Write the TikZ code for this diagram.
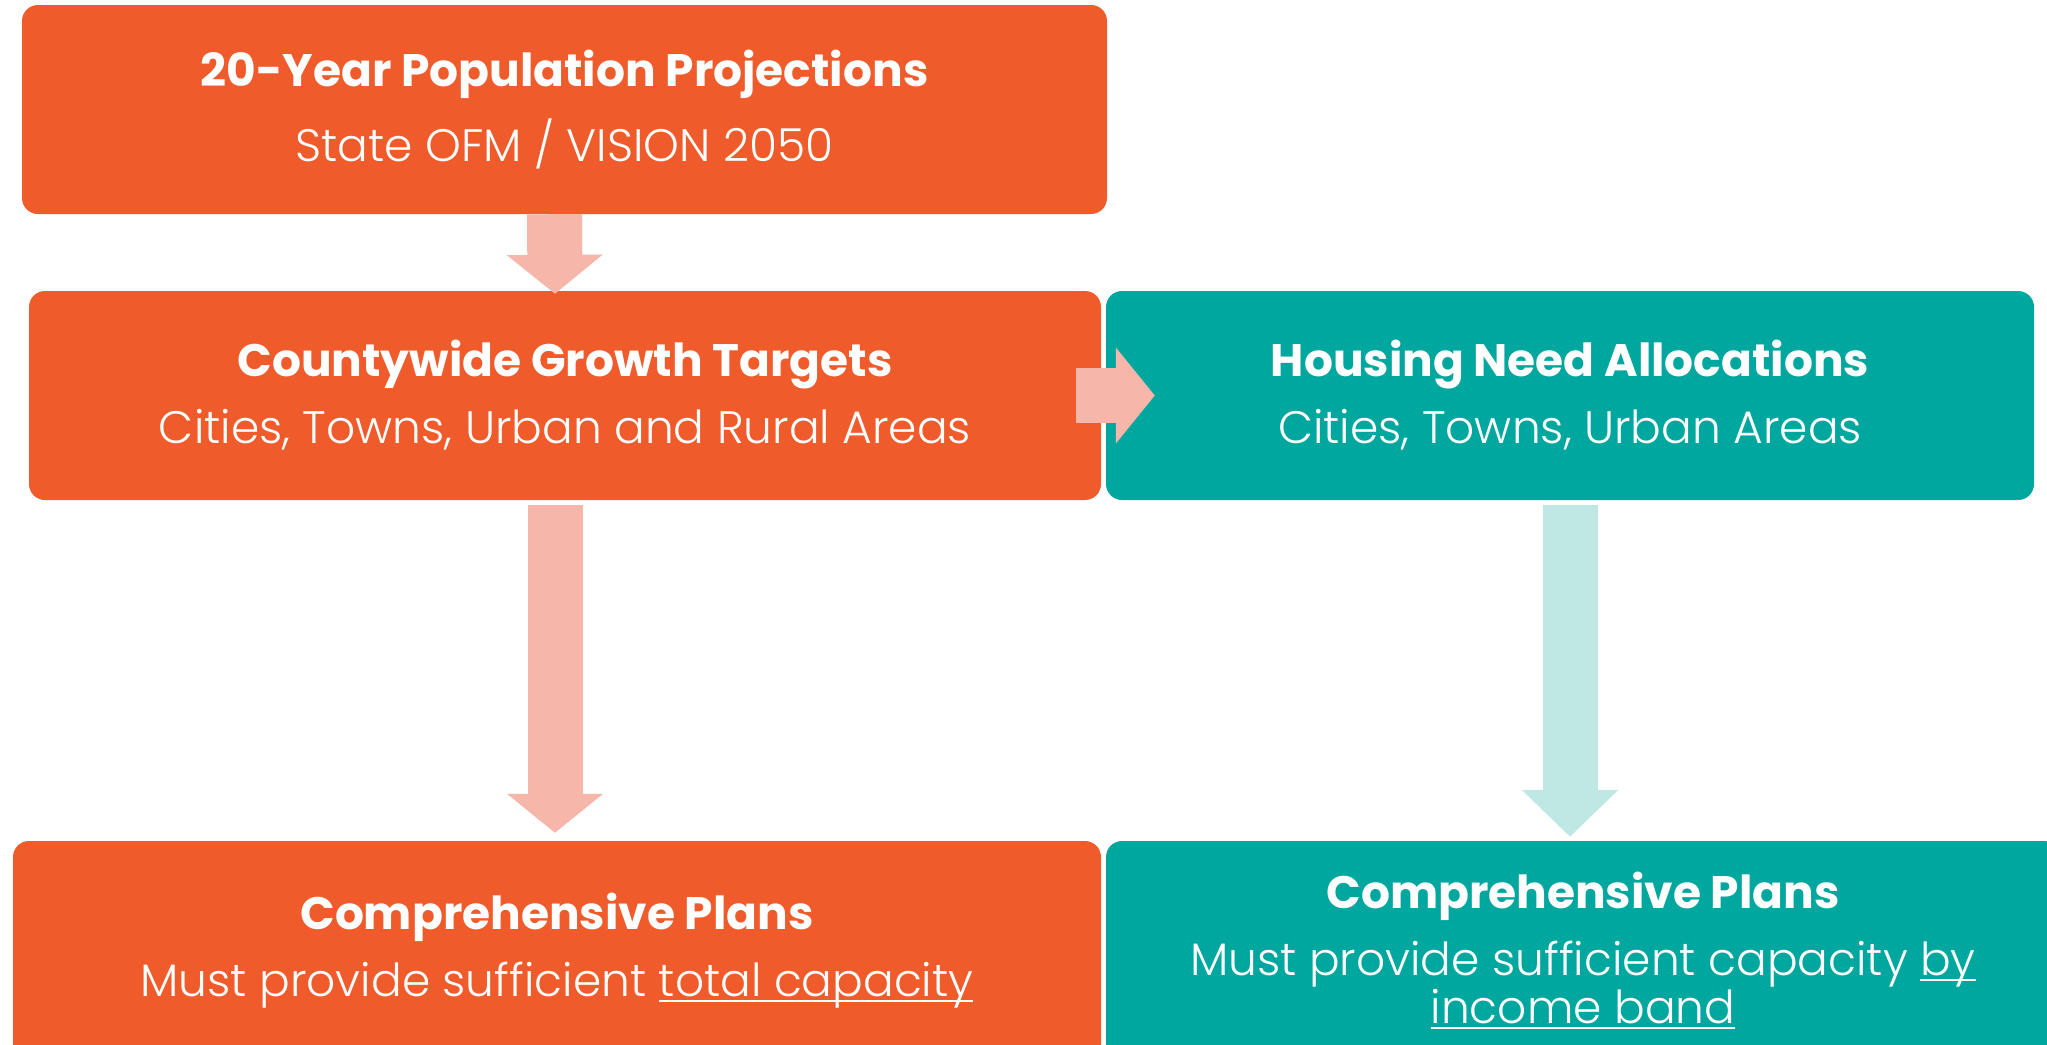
\documentclass[tikz,border=0pt]{standalone}
\usepackage{fontspec}
\setmainfont{Poppins}
\newfontfamily\lightfont{Poppins Light}
\newcommand\undrl[1]{\setbox0\hbox{#1}\rlap{\rule[-6pt]{\wd0}{2pt}}\box0}
\usetikzlibrary{arrows.meta}

\begin{document}
\begin{tikzpicture}[x=1pt,y=-1pt,
  box/.style={rounded corners=16pt, inner sep=0pt, align=center, text=white,
    font=\fontsize{45.5}{48}\selectfont},
  orangebox/.style={box, fill=custorange},
  tealbox/.style={box, fill=custteal},
  pinkarrow/.style={line width=55pt, custpink, -{Triangle[width=94pt,length=39pt]}},
  tealarrow/.style={line width=55pt, custlteal, -{Triangle[width=94pt,length=47pt]}}]
\definecolor{custorange}{RGB}{240, 91, 43}
\definecolor{custteal}{RGB}{0, 167, 159}
\definecolor{custpink}{RGB}{247, 182, 170}
\definecolor{custlteal}{RGB}{191, 232, 228}
\useasboundingbox (0,0) rectangle (2047,1044);
% boxes
\node[orangebox, minimum width=1085pt, minimum height=209pt] (pop) at (564.5,109.5)
  {\bfseries 20-Year Population Projections\\[19pt] {\lightfont State OFM / VISION 2050}};
\node[orangebox, minimum width=1072pt, minimum height=209pt] (growth) at (565,395.5)
  {\bfseries Countywide Growth Targets\\[19pt] {\lightfont Cities, Towns, Urban and Rural Areas}};
\node[tealbox, minimum width=928pt, minimum height=209pt] (housing) at (1570,395.5)
  {\bfseries Housing Need Allocations\\[19pt] {\lightfont Cities, Towns, Urban Areas}};
\node[orangebox, minimum width=1088pt, minimum height=219pt] (compL) at (557,950.5)
  {\bfseries Comprehensive Plans\\[19pt] {\lightfont Must provide sufficient \undrl{total capacity}}};
\node[tealbox, minimum width=954pt, minimum height=219pt] (compR) at (1583,950.5)
  {\bfseries Comprehensive Plans\\[19pt] {\lightfont Must provide sufficient capacity \undrl{by}}\\ {\lightfont \undrl{income band}}};
% arrows
\draw[pinkarrow, shorten >=-3pt] ([xshift=-10pt]pop.south) -- ([xshift=-10pt]growth.north);
\draw[pinkarrow] ([xshift=-25pt]growth.east) -- ([xshift=49pt]housing.west);
\draw[pinkarrow, shorten <=5pt, shorten >=8pt] ([xshift=-10pt]growth.south) -- ([xshift=-10pt]growth.south |- compL.north);
\draw[tealarrow, shorten <=5pt, shorten >=4pt] (housing.south) -- (housing.south |- compR.north);
\end{tikzpicture}
\end{document}
